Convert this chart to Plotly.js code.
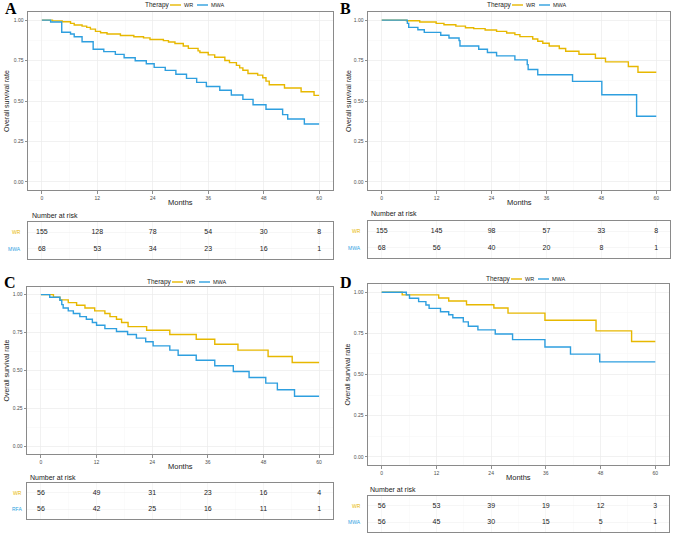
<!DOCTYPE html>
<html><head><meta charset="utf-8">
<script src="https://cdn.plot.ly/plotly-3.0.1.min.js"></script>
<style>html,body{margin:0;padding:0;background:#fff}#chart{width:676px;height:534px}</style>
</head><body><div id="chart"></div>
<script>
// ---- tick labels ----
const monthTicks = [0, 12, 24, 36, 48, 60];
const monthMinor = [6, 18, 30, 42, 54];
const survTicks = [0, 0.25, 0.5, 0.75, 1];
const survTickText = ['0.00', '0.25', '0.50', '0.75', '1.00'];
const survMinor = [0.125, 0.375, 0.625, 0.875];
const groupNames = ['WR', 'MWA'];

// ---- Panel A ----
const A_WR_time = [0,2.3,4.4,6.2,7.0,8.7,9.7,10.5,11.6,12.7,14.1,17.0,19.9,22.0,23.4,26.3,27.4,28.8,30.6,31.7,33.8,34.2,36.0,37.4,39.6,40.6,42.1,42.8,43.5,44.6,46.7,47.8,48.5,49.2,52.5,56.1,58.9,60];
const A_WR_surv = [1,0.995,0.99,0.98,0.97,0.963,0.955,0.944,0.93,0.922,0.914,0.905,0.897,0.89,0.88,0.873,0.865,0.855,0.84,0.825,0.81,0.80,0.785,0.77,0.75,0.737,0.72,0.705,0.69,0.67,0.66,0.644,0.623,0.60,0.58,0.557,0.535,0.535];
const A_MWA_time = [0,1.9,4.3,6.2,7.0,8.7,11.1,13.4,15.9,17.8,20.2,22.6,24.3,26.7,29.0,31.3,33.5,35.6,38.5,41.0,43.5,45.7,48.5,52.1,53.2,56.8,60];
const A_MWA_surv = [1,0.988,0.925,0.914,0.897,0.866,0.82,0.805,0.788,0.767,0.749,0.73,0.708,0.689,0.665,0.64,0.615,0.59,0.566,0.537,0.51,0.477,0.449,0.416,0.389,0.358,0.358];
const A_WR_risk = [155, 128, 78, 54, 30, 8];
const A_MWA_risk = [68, 53, 34, 23, 16, 1];

// ---- Panel B ----
const B_WR_time = [0,5.4,8.3,11.9,13.6,16.2,18.3,20.1,22.6,25.1,27.3,29.1,30.2,33.0,34.1,35.2,36.6,38.8,40.2,43.1,46.7,48.9,53.9,56.0,60];
const B_WR_surv = [1,0.996,0.988,0.98,0.971,0.963,0.953,0.947,0.939,0.93,0.92,0.91,0.898,0.883,0.869,0.857,0.84,0.824,0.807,0.789,0.764,0.742,0.713,0.678,0.678];
const B_MWA_time = [0,5.6,5.9,7.9,9.3,12.9,14.7,16.9,17.1,21.2,23.1,25.1,29.1,31.8,32.0,34.1,41.7,48.1,55.7,60];
const B_MWA_surv = [1,0.98,0.955,0.94,0.924,0.906,0.889,0.873,0.84,0.82,0.80,0.779,0.754,0.725,0.695,0.662,0.621,0.539,0.406,0.406];
const B_WR_risk = [155, 145, 98, 57, 33, 8];
const B_MWA_risk = [68, 56, 40, 20, 8, 1];

// ---- Panel C ----
const C_WR_time = [0,2.7,4.1,5.9,7.7,9.5,11.6,13.8,14.9,16.3,17.4,18.8,22.8,27.8,33.5,37.5,42.5,49.0,54.2,60];
const C_WR_surv = [1,0.982,0.965,0.947,0.93,0.912,0.893,0.875,0.855,0.838,0.816,0.789,0.765,0.737,0.706,0.673,0.634,0.592,0.553,0.553];
const C_MWA_time = [0,1.9,4.1,4.5,4.8,5.9,7.0,8.4,9.8,11.1,12.0,13.8,16.3,18.7,20.6,22.6,24.2,27.8,29.6,33.5,37.5,41.5,44.9,48.5,51.0,54.7,60];
const C_MWA_surv = [1,0.982,0.963,0.934,0.912,0.893,0.875,0.855,0.838,0.816,0.798,0.776,0.757,0.737,0.713,0.689,0.662,0.634,0.60,0.568,0.531,0.493,0.454,0.417,0.373,0.33,0.33];
const C_WR_risk = [56, 49, 31, 23, 16, 4];
const C_RFA_risk = [56, 42, 25, 16, 11, 1];

// ---- Panel D ----
const D_WR_time = [0,4.5,12.5,14.7,18.6,24.6,27.7,35.8,47.0,54.8,60];
const D_WR_surv = [1,0.984,0.965,0.947,0.924,0.904,0.873,0.83,0.765,0.701,0.701];
const D_MWA_time = [0,5.4,6.1,8.1,9.7,10.4,12.9,14.7,15.6,17.9,19.0,21.1,24.9,28.7,35.8,41.4,47.8,60];
const D_MWA_surv = [1,0.984,0.963,0.943,0.922,0.902,0.881,0.863,0.845,0.82,0.793,0.771,0.746,0.712,0.667,0.624,0.577,0.577];
const D_WR_risk = [56, 53, 39, 19, 12, 3];
const D_MWA_risk = [56, 45, 30, 15, 5, 1];

const W = 676, H = 534;
const fx = p => p / W, fy = p => 1 - p / H;
const COLORS = ['#E7B800', '#2E9FDF'];
const FONT = 'Liberation Sans, Arial, sans-serif';

const panels = [
  {letter:'A', curves:[[A_WR_time,A_WR_surv],[A_MWA_time,A_MWA_surv]], risk:[A_WR_risk,A_MWA_risk], rowNames:['WR','MWA'],
   plot:[28,333,12,190], table:[28,333,222,259], letterPos:[3,8], legend:[143,5], ytitleX:6, monthsY:203, nar:[30,215], rowRight:23},
  {letter:'B', curves:[[B_WR_time,B_WR_surv],[B_MWA_time,B_MWA_surv]], risk:[B_WR_risk,B_MWA_risk], rowNames:['WR','MWA'],
   plot:[368,670,12,190], table:[368,670,221,258], letterPos:[338,8], legend:[485,5], ytitleX:348, monthsY:202, nar:[369,213], rowRight:363},
  {letter:'C', curves:[[C_WR_time,C_WR_surv],[C_MWA_time,C_MWA_surv]], risk:[C_WR_risk,C_RFA_risk], rowNames:['WR','RFA'],
   plot:[27,333,287,454], table:[27,333,483,519], letterPos:[2,282], legend:[145,282], ytitleX:6, monthsY:466, nar:[28,477], rowRight:24},
  {letter:'D', curves:[[D_WR_time,D_WR_surv],[D_MWA_time,D_MWA_surv]], risk:[D_WR_risk,D_MWA_risk], rowNames:['WR','MWA'],
   plot:[368,669,284,465], table:[368,669,496,532], letterPos:[338,282], legend:[484,279], ytitleX:347, monthsY:477, nar:[368,489], rowRight:363}
];

const data = [];
const layout = {width:W, height:H, margin:{l:0,r:0,t:0,b:0}, paper_bgcolor:'#fff', plot_bgcolor:'#fff',
  showlegend:false, annotations:[], shapes:[], font:{family:FONT}};

const tickFont = {size:5, color:'#4d4d4d', family:FONT};

panels.forEach((p, i) => {
  const n = i + 1, m = i + 5;
  const xa = n === 1 ? 'x' : 'x' + n, ya = n === 1 ? 'y' : 'y' + n;
  const xt = 'x' + m, yt = 'y' + m;
  const [l, r, t, b] = p.plot;
  const [tl, tr, tt, tb] = p.table;

  p.curves.forEach((c, k) => {
    data.push({type:'scatter', mode:'lines', x:c[0], y:c[1], xaxis:xa, yaxis:ya,
      line:{shape:'hv', color:COLORS[k], width:1.4}, hoverinfo:'skip'});
  });
  p.risk.forEach((vals, k) => {
    data.push({type:'scatter', mode:'text', x:monthTicks, y:monthTicks.map(() => 2 - k), text:vals.map(String),
      xaxis:xt, yaxis:yt, textfont:{size:7, color:'#222', family:FONT}, hoverinfo:'skip', cliponaxis:false});
  });

  const axName = s => s === 'x' || s === 'y' ? s + 'axis' : s[0] + 'axis' + s.slice(1);
  layout[axName(xa)] = {domain:[fx(l), fx(r)], anchor:ya, range:[-3, 63], tickvals:monthTicks, ticktext:monthTicks.map(String),
    ticks:'outside', ticklen:2.5, tickwidth:0.6, tickcolor:'#444', tickfont:tickFont,
    showline:true, mirror:true, linecolor:'#8a8a8a', linewidth:1, showgrid:true, gridcolor:'#ebebeb', gridwidth:0.7,
    zeroline:false, fixedrange:true,
    minor:{tickvals:monthMinor, showgrid:true, gridcolor:'#f5f5f5', gridwidth:0.5}};
  layout[axName(ya)] = {domain:[fy(b), fy(t)], anchor:xa, range:[-0.05, 1.05], tickvals:survTicks, ticktext:survTickText,
    ticks:'outside', ticklen:2.5, tickwidth:0.6, tickcolor:'#444', tickfont:tickFont,
    showline:true, mirror:true, linecolor:'#8a8a8a', linewidth:1, showgrid:true, gridcolor:'#ebebeb', gridwidth:0.7,
    zeroline:false, fixedrange:true,
    minor:{tickvals:survMinor, showgrid:true, gridcolor:'#f5f5f5', gridwidth:0.5}};
  layout[axName(xt)] = {domain:[fx(tl), fx(tr)], anchor:yt, range:[-3, 63], tickvals:monthTicks, showticklabels:false, ticks:'',
    showline:true, mirror:true, linecolor:'#8a8a8a', linewidth:1, showgrid:true, gridcolor:'#f0f0f0', gridwidth:0.6,
    zeroline:false, fixedrange:true, minor:{tickvals:monthMinor, showgrid:true, gridcolor:'#f7f7f7', gridwidth:0.5}};
  layout[axName(yt)] = {domain:[fy(tb), fy(tt)], anchor:xt, range:[0.4, 2.6], tickvals:[1, 2], showticklabels:false, ticks:'',
    showline:true, mirror:true, linecolor:'#8a8a8a', linewidth:1, showgrid:true, gridcolor:'#f0f0f0', gridwidth:0.6,
    zeroline:false, fixedrange:true};

  // row labels
  p.rowNames.forEach((name, k) => {
    layout.annotations.push({xref:'paper', yref:yt, x:fx(p.rowRight), y:2 - k, xanchor:'right', yanchor:'middle',
      text:name, showarrow:false, font:{size:5, color:COLORS[k], family:FONT}});
  });
  // panel letter
  layout.annotations.push({xref:'paper', yref:'paper', x:fx(p.letterPos[0]), y:fy(p.letterPos[1]), xanchor:'left', yanchor:'middle',
    text:'<b>' + p.letter + '</b>', showarrow:false, font:{size:16, color:'#000', family:'Liberation Serif, Times New Roman, serif'}});
  // y title
  layout.annotations.push({xref:'paper', yref:'paper', x:fx(p.ytitleX), y:fy((t + b) / 2), xanchor:'center', yanchor:'middle',
    text:'Overall survival rate', textangle:-90, showarrow:false, font:{size:7, color:'#222', family:FONT}});
  // Months
  layout.annotations.push({xref:'paper', yref:'paper', x:fx((l + r) / 2), y:fy(p.monthsY), xanchor:'center', yanchor:'middle',
    text:'Months', showarrow:false, font:{size:7.5, color:'#222', family:FONT}});
  // Number at risk
  layout.annotations.push({xref:'paper', yref:'paper', x:fx(p.nar[0]), y:fy(p.nar[1]), xanchor:'left', yanchor:'middle',
    text:'Number at risk', showarrow:false, font:{size:7, color:'#222', family:FONT}});
  // legend
  const [lx, ly] = p.legend;
  layout.annotations.push({xref:'paper', yref:'paper', x:fx(lx), y:fy(ly), xanchor:'left', yanchor:'middle',
    text:'Therapy', showarrow:false, font:{size:6.5, color:'#222', family:FONT}});
  groupNames.forEach((g, k) => {
    const x0 = lx + 27 + k * 27;
    layout.shapes.push({type:'line', xref:'paper', yref:'paper', x0:fx(x0), x1:fx(x0 + 11), y0:fy(ly), y1:fy(ly),
      line:{color:COLORS[k], width:1.4}});
    layout.annotations.push({xref:'paper', yref:'paper', x:fx(x0 + 12), y:fy(ly), xanchor:'left', yanchor:'middle',
      text:g, showarrow:false, font:{size:5.5, color:'#222', family:FONT}});
  });
});

Plotly.newPlot('chart', data, layout, {staticPlot:true, displayModeBar:false});
</script>
</body></html>
